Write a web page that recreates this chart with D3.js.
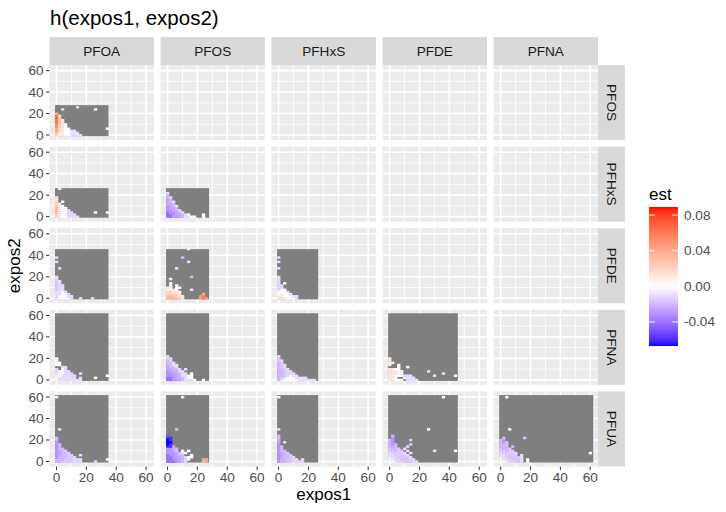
<!DOCTYPE html>
<html>
<head>
<meta charset="utf-8">
<script src="https://cdn.jsdelivr.net/npm/d3@7"></script>
<style>
  body { margin: 0; background: #fff; }
  text { font-family: "Liberation Sans", Arial, sans-serif; }
</style>
</head>
<body>
<svg id="chart" width="726" height="512"></svg>
<script>
const COLS = ["PFOA", "PFOS", "PFHxS", "PFDE", "PFNA"];
const ROWS = ["PFOS", "PFHxS", "PFDE", "PFNA", "PFUA"];
const MAJOR_TICKS = [0, 20, 40, 60];
const MINOR_TICKS = [10, 30, 50];
const EST_TICKS = [-0.04, 0, 0.04, 0.08];
const EST_RANGE = [-0.067, 0.089];

// upper end of the evaluation grid for each exposure
const GRID_MAX = { PFOA: 34.8, PFOS: 27.8, PFHxS: 26.5, PFDE: 45.7, PFNA: 62, PFUA: 61.8 };
const GRID_MIN = -1;
const GRID_STEP = 2;
const _ = null;

// est x 100, first row is expos2 = 0, first column is expos1 = 0 (grid step 2)
const est_PFOS_PFOA = [
  [2, 1, 1, 0, 0, -1, -1, -1, -1],
  [3, 1, 1, 0, 0, -1, -1, -1],
  [4, 2, 1, 0, 0, -1, -1],
  [4, 2, 1, 0, 0],
  [5, 2, 1, 0],
  [5, 2, 1, 0],
  [6, 3, 1],
  [6, 3, 1],
  [7, 3],
  [6, 2],
  [4],
];
const dots_PFOS_PFOA = [[4, 24, 2], [14, 26, -1], [26, 24, 0], [34, 6, 0]];

const est_PFHxS_PFOA = [
  [2, 1, 0, 0, -1, -1, -1, -1],
  [2, 1, 0, 0, -1, -1, -1],
  [3, 1, 0, 0, -1, -1],
  [3, 1, 0, 0, -1],
  [3, 1, 0, 0],
  [3, 1, 0],
  [2, 1],
  [2, _, 0],
  [1],
  [1],
];
const dots_PFHxS_PFOA = [[2, 26, 1], [26, 4, 0], [34, 4, 0]];

const est_PFHxS_PFOS = [
  [-4, -4, -3, -3, -2.5, -2, -1, -1, 0, 0, _, _, 0],
  [-4, -4, -3, -2.5, -2.5, -2, -1, 0],
  [-4, -3, -3, -2.5, -2, -1],
  [-3, -3, -2.5, -2, -1],
  [-3, -2.5, -2.5, -2],
  [-3, -2.5, -2, -1],
  [-2.5, -2.5, -2],
  [-2.5, -2, -1],
  [-2.5, -2],
  [-2, -1],
  [-2],
  [-1],
];
const dots_PFHxS_PFOS = [[24, 2, 0]];

const est_PFDE_PFOA = [
  [-1, 0, 0, 0, 0, -1, _, _, -1, _, _, _, -1],
  [-1, 0, 0, 0, -1, -1],
  [-1, -1, 0, 0, -1],
  [-1, -1, 0, -1],
  [-1.5, -1, -1],
  [-1.5, -1, -1],
  [-1.5, -1, -1],
  [-1.5, -1],
  [-1.5, -1],
  [-1],
  [-1],
];
const dots_PFDE_PFOA = [[0, 34, -1], [0, 38, -1], [2, 28, -1]];

const est_PFDE_PFOS = [
  [3, 3, 3, 3, 2, 1, _, _, _, _, _, 4, 6, 5],
  [3, 3, 3, 2, 2, 1, _, _, _, _, _, 5, 6],
  [2, 2, 2, 2, 1, _, _, _, _, _, _, _, 4],
  [2, 2, 1, 1, 0],
  [1, 1, 1, 0],
  [1, 0, _, 0, 0],
  [_, 0, _, 0],
  [_, 0],
  [],
  [_, 0],
];
const dots_PFDE_PFOS = [[14, 46, 0], [10, 38, -2], [14, 34, -1], [16, 20, -2], [6, 28, -1], [16, 8, -1]];

const est_PFDE_PFHxS = [
  [1, 1, 1, 0, 0, 0, -1],
  [1, 1, 0, 0, 0, -1, -1],
  [0, 1, 0, 0, -1],
  [0, 0, 0, -1],
  [-1, 0, 0],
  [-1, -1],
  [-1, -1],
  [-1, _, 0],
  [-1],
  [-1],
  [-1],
];
const dots_PFDE_PFHxS = [[0, 28, -1], [0, 34, -1], [0, 38, -1]];

const est_PFNA_PFOA = [
  [0.5, -1, -1, -1, -1, -1, -1, -1, -1],
  [0.5, -1, -1, -1, -1, -1, -1, _, -1],
  [0.5, 0, -1, -1, -1, -1, -1],
  [-1, 0, 0, -1, -1, -1],
  [-1, 0, 0, -1, -1],
  [-1, _, 0, -1],
  [_, _, -1, -1],
  [0, 0],
  [0, 0],
  [0],
  [0],
];
const dots_PFNA_PFOA = [[16, 6, -1], [26, 2, 0], [34, 4, 0]];

const est_PFNA_PFOS = [
  [-4, -4, -3, -3, -2.5, -2, -1, -1, -1, 0, _, _, 0],
  [-4, -4, -3, -2.5, -2.5, -2, -1, 0, 0],
  [-3, -3, -3, -2.5, -2, -1, -1, 0, 0],
  [-3, -3, -2.5, -2.5, -2, -1, -1, _, 0],
  [-3, -2.5, -2.5, -2, -1, -1],
  [-2.5, -2.5, -2, -2, -1, _, -1],
  [-2.5, -2, -2, -1],
  [-2.5, -2, -1, -1],
  [-2, -2, -1],
  [-2, -1],
  [-1, -1],
  [-1],
];
const dots_PFNA_PFOS = [];

const est_PFNA_PFHxS = [
  [-2, -1, 0, 0, 0, 0, 0, -1, -1, -1, -1, -1, -1],
  [-2, -1.5, -1, 0, 0, 0, -1, -1, -1, -1],
  [-2, -2, -1.5, -1, 0, -1, -1],
  [-2, -2, -1.5, -1, -1, -1],
  [-2, -2, -1.5, -1, -1],
  [-2, -2, -1.5, -1],
  [-2, -1.5, -1],
  [-2, -1.5, -1],
  [-2, -1.5],
  [-1.5, -1],
  [-1.5],
  [-1],
];
const dots_PFNA_PFHxS = [];

const est_PFNA_PFDE = [
  [1, 1, 0, 0, 0, _, -1, -1, -1, -1],
  [1, 1, 0, _, _, 0, -1, -1, -1],
  [1, 1, 0, 0, 0, -1, -1, -1],
  [1, 1, 1, 0, 0],
  [1, 1, 1, 0, 0],
  [1, 1, 0, 0],
  [_, _, _, 0, _, _, 0],
  [1, _, _, 0],
  [1, 1],
  [1],
  [1],
];
const dots_PFNA_PFDE = [[26, 8, -1], [30, 4, -1], [36, 6, -1], [44, 4, 0]];

const est_PFUA_PFOA = [
  [-2, -2, -1.5, -1.5, -1.5, -1.5, -1, -1, -1],
  [-2, -2, -2, -1.5, -1.5, -1.5, -1, -1, -1],
  [-3, -2, -2, -2, -1.5, -1.5, -1],
  [-3, -2.5, -2, -2, -1.5, -1.5, _, _, -1],
  [-3, -2.5, -2, -2, -1.5],
  [-3, -2.5, -2, -1.5],
  [-3, -2, -2],
  [-3, -2],
  [-3, -2],
  [-3],
  [-2.5],
  [-2],
];
const dots_PFUA_PFOA = [[2, 30, -1], [26, 0, -1], [34, 2, 0], [0, 60, 0]];

const est_PFUA_PFOS = [
  [-4, -4, -4, -3, -2.5, -2, -1, _, _, _, _, _, 3, 4],
  [-4, -4, -3, -3, -2.5, -2, -1, 0, _, _, _, _, 4, 4],
  [-4, -4, -3, -2.5, -2.5, -2, -1, 0, 0],
  [-4, -3, -3, -2.5, -2, -2, _, _, 0],
  [-3, -3, -3, -2.5, -2, -1, 0],
  [-3, -3, -2.5, -2, _, 0, _, 0],
  [-3, -3, -2.5, -2],
  [-6, -6, -2.5],
  [-7, -6],
  [-7, -7],
  [-7, -6],
  [-6, -6],
  [-5],
];
const dots_PFUA_PFOS = [[10, 60, 0], [6, 30, -2]];

const est_PFUA_PFHxS = [
  [-3, -2, -2, -1.5, -1.5, -1, -1, -1, -1],
  [-3, -2, -2, -1.5, -1.5, -1, -1, _, -1],
  [-3, -2.5, -2, -2, -1.5, -1],
  [-3, -2.5, -2, -2, -1.5],
  [-3, -2.5, -2, -1.5],
  [-3, -2, -2],
  [-3, -2],
  [-3, -2],
  [-3],
  [-2.5, _, -1],
  [-2.5],
  [-2],
  [-2],
];
const dots_PFUA_PFHxS = [[0, 30, -1], [0, 60, 0]];

const est_PFUA_PFDE = [
  [0, 0, -0.5, -1, -1, -1.5, -1.5, -1.5, -1, -1],
  [0, -0.5, -1, -1, -1.5, -1.5, -1.5, -1.5, -1],
  [-0.5, -1, -1, -1.5, -1.5, -1.5, -1.5, -1],
  [-1, -1, -1.5, -1.5, -1.5, -1.5, -1],
  [-1, -1.5, -1.5, -1.5, -1.5, -1, _, -1],
  [-1.5, -1.5, -2, -1.5, -1.5, _, -1],
  [-1.5, -2, -2, -1.5, _, -1],
  [-2, -2, -2, _, _, _, -1],
  [-2, -3, -2, _, _, _, _, -1.5],
  [-2, -3],
  [-2, -3, _, _, _, _, _, -1.5],
  [_, -3],
  [_, -2],
];
const dots_PFUA_PFDE = [[26, 30, 0], [36, 60, 0], [44, 10, 0], [30, 10, -1]];

const est_PFUA_PFNA = [
  [0, 0, -0.5, -1, -1, -1.5, -1.5, -1, _, 0],
  [0, -0.5, -1, -1, -1.5, -1.5, -1.5, -1, _, 0],
  [-0.5, -1, -1, -1.5, -1.5, -1.5, -1.5, -1],
  [-1, -1, -1.5, -1.5, -1.5, -1.5, _, -1],
  [-1, -1.5, -1.5, -1.5, -1.5, -1],
  [-1.5, -1.5, -2, -1.5, -1.5],
  [-1.5, -2, -2, -1.5],
  [-2, -2, -2, _, -2],
  [-2, -2, -1.5],
  [-2, -3, -2],
  [-2, -3],
  [_, -2, _, _, _, _, _, _, -1.5],
];
const dots_PFUA_PFNA = [[6, 30, 0], [60, 8, 0], [4, 60, 0]];

const PANELS = [
  { row: "PFOS", col: "PFOA", est: est_PFOS_PFOA, dots: dots_PFOS_PFOA },
  { row: "PFHxS", col: "PFOA", est: est_PFHxS_PFOA, dots: dots_PFHxS_PFOA },
  { row: "PFHxS", col: "PFOS", est: est_PFHxS_PFOS, dots: dots_PFHxS_PFOS },
  { row: "PFDE", col: "PFOA", est: est_PFDE_PFOA, dots: dots_PFDE_PFOA },
  { row: "PFDE", col: "PFOS", est: est_PFDE_PFOS, dots: dots_PFDE_PFOS },
  { row: "PFDE", col: "PFHxS", est: est_PFDE_PFHxS, dots: dots_PFDE_PFHxS },
  { row: "PFNA", col: "PFOA", est: est_PFNA_PFOA, dots: dots_PFNA_PFOA },
  { row: "PFNA", col: "PFOS", est: est_PFNA_PFOS, dots: dots_PFNA_PFOS },
  { row: "PFNA", col: "PFHxS", est: est_PFNA_PFHxS, dots: dots_PFNA_PFHxS },
  { row: "PFNA", col: "PFDE", est: est_PFNA_PFDE, dots: dots_PFNA_PFDE },
  { row: "PFUA", col: "PFOA", est: est_PFUA_PFOA, dots: dots_PFUA_PFOA },
  { row: "PFUA", col: "PFOS", est: est_PFUA_PFOS, dots: dots_PFUA_PFOS },
  { row: "PFUA", col: "PFHxS", est: est_PFUA_PFHxS, dots: dots_PFUA_PFHxS },
  { row: "PFUA", col: "PFDE", est: est_PFUA_PFDE, dots: dots_PFUA_PFDE },
  { row: "PFUA", col: "PFNA", est: est_PFUA_PFNA, dots: dots_PFUA_PFNA },
];

const svg = d3.select("#chart");

const colBand = d3.scaleBand().domain(COLS).range([49.5, 598]).paddingInner(0.06);
const rowBand = d3.scaleBand().domain(ROWS).range([65, 466.5]).paddingInner(0.08);
const PW = colBand.bandwidth();
const PH = rowBand.bandwidth();
const STRIP = 28;

const x = d3.scaleLinear().domain([-4.7, 65.2]).range([0, PW]);
const y = d3.scaleLinear().domain([-4.7, 65.2]).range([PH, 0]);

const color = d3.scaleLinear()
  .domain([EST_RANGE[0], 0, EST_RANGE[1]])
  .range(["#0000FF", "#FFFFFF", "#FF0000"])
  .interpolate(d3.interpolateLab)
  .clamp(true);

// title
svg.append("text")
  .attr("x", 50).attr("y", 25)
  .style("font-size", "20.5px").attr("fill", "#000")
  .text("h(expos1, expos2)");

// all panels: background + grid
const cells = [];
ROWS.forEach((r) => COLS.forEach((c) => cells.push({ row: r, col: c })));

const panel = svg.selectAll("g.panel")
  .data(cells)
  .join("g")
  .attr("class", "panel")
  .attr("transform", (d) => `translate(${colBand(d.col)},${rowBand(d.row)})`);

panel.append("rect")
  .attr("width", PW).attr("height", PH)
  .attr("fill", "#EBEBEB");

panel.selectAll("line.minx")
  .data(MINOR_TICKS).join("line")
  .attr("x1", (d) => x(d)).attr("x2", (d) => x(d))
  .attr("y1", 0).attr("y2", PH)
  .attr("stroke", "#fff").attr("stroke-width", 0.8);
panel.selectAll("line.miny")
  .data(MINOR_TICKS).join("line")
  .attr("y1", (d) => y(d)).attr("y2", (d) => y(d))
  .attr("x1", 0).attr("x2", PW)
  .attr("stroke", "#fff").attr("stroke-width", 0.8);
panel.selectAll("line.majx")
  .data(MAJOR_TICKS).join("line")
  .attr("x1", (d) => x(d)).attr("x2", (d) => x(d))
  .attr("y1", 0).attr("y2", PH)
  .attr("stroke", "#fff").attr("stroke-width", 1.6);
panel.selectAll("line.majy")
  .data(MAJOR_TICKS).join("line")
  .attr("y1", (d) => y(d)).attr("y2", (d) => y(d))
  .attr("x1", 0).attr("x2", PW)
  .attr("stroke", "#fff").attr("stroke-width", 1.6);

// raster panels
PANELS.forEach((p) => {
  const g = svg.append("g")
    .attr("transform", `translate(${colBand(p.col)},${rowBand(p.row)})`);

  // NA cells of the evaluation grid
  g.append("rect")
    .attr("x", x(GRID_MIN))
    .attr("y", y(GRID_MAX[p.row]))
    .attr("width", x(GRID_MAX[p.col]) - x(GRID_MIN))
    .attr("height", y(GRID_MIN) - y(GRID_MAX[p.row]))
    .attr("fill", "#7F7F7F");

  const pts = [];
  p.est.forEach((rowVals, j) => {
    rowVals.forEach((v, i) => {
      if (v !== null) pts.push({ x: i * GRID_STEP, y: j * GRID_STEP, est: v / 100 });
    });
  });
  p.dots.forEach((d) => pts.push({ x: d[0], y: d[1], est: d[2] / 100 }));

  const h = GRID_STEP / 2;
  g.selectAll("rect.cell")
    .data(pts)
    .join("rect")
    .attr("class", "cell")
    .attr("x", (d) => x(d.x - h))
    .attr("y", (d) => y(d.y + h))
    .attr("width", (d) => x(d.x + h) - x(d.x - h) + 0.3)
    .attr("height", (d) => y(d.y - h) - y(d.y + h) + 0.3)
    .attr("fill", (d) => color(d.est));
});

// top strips
const topStrip = svg.selectAll("g.tstrip")
  .data(COLS).join("g")
  .attr("transform", (d) => `translate(${colBand(d)},${65 - STRIP})`);
topStrip.append("rect")
  .attr("width", PW).attr("height", STRIP).attr("fill", "#D9D9D9");
topStrip.append("text")
  .attr("x", PW / 2).attr("y", STRIP / 2)
  .attr("text-anchor", "middle").attr("dominant-baseline", "central")
  .style("font-size", "13.6px").attr("fill", "#1A1A1A")
  .text((d) => d);

// right strips
const rightStrip = svg.selectAll("g.rstrip")
  .data(ROWS).join("g")
  .attr("transform", (d) => `translate(598,${rowBand(d)})`);
rightStrip.append("rect")
  .attr("width", STRIP - 1).attr("height", PH).attr("fill", "#D9D9D9");
rightStrip.append("text")
  .attr("transform", `translate(${(STRIP - 1) / 2},${PH / 2}) rotate(90)`)
  .attr("text-anchor", "middle").attr("dominant-baseline", "central")
  .style("font-size", "13.6px").attr("fill", "#1A1A1A")
  .text((d) => d);

// left axes
ROWS.forEach((r) => {
  const g = svg.append("g").attr("transform", `translate(49.5,${rowBand(r)})`);
  g.selectAll("line")
    .data(MAJOR_TICKS).join("line")
    .attr("x1", -3.5).attr("x2", 0)
    .attr("y1", (d) => y(d)).attr("y2", (d) => y(d))
    .attr("stroke", "#333").attr("stroke-width", 1);
  g.selectAll("text")
    .data(MAJOR_TICKS).join("text")
    .attr("x", -6).attr("y", (d) => y(d))
    .attr("text-anchor", "end").attr("dominant-baseline", "central")
    .style("font-size", "13.6px").attr("fill", "#4D4D4D")
    .text((d) => d);
});

// bottom axes
const lastRow = ROWS[ROWS.length - 1];
COLS.forEach((c) => {
  const g = svg.append("g")
    .attr("transform", `translate(${colBand(c)},${rowBand(lastRow) + PH})`);
  g.selectAll("line")
    .data(MAJOR_TICKS).join("line")
    .attr("x1", (d) => x(d)).attr("x2", (d) => x(d))
    .attr("y1", 0).attr("y2", 3.5)
    .attr("stroke", "#333").attr("stroke-width", 1);
  g.selectAll("text")
    .data(MAJOR_TICKS).join("text")
    .attr("x", (d) => x(d)).attr("y", 15)
    .attr("text-anchor", "middle")
    .style("font-size", "13.6px").attr("fill", "#4D4D4D")
    .text((d) => d);
});

// axis titles
svg.append("text")
  .attr("x", (49.5 + 598) / 2).attr("y", 499.5)
  .attr("text-anchor", "middle")
  .style("font-size", "17px").attr("fill", "#000")
  .text("expos1");
svg.append("text")
  .attr("transform", `translate(20,${(65 + 466.5) / 2}) rotate(-90)`)
  .attr("text-anchor", "middle")
  .style("font-size", "17px").attr("fill", "#000")
  .text("expos2");

// legend
const BAR = { x: 649, y: 207, w: 29, h: 139 };
const ly = d3.scaleLinear().domain(EST_RANGE).range([BAR.y + BAR.h, BAR.y]);

const grad = svg.append("defs").append("linearGradient")
  .attr("id", "estGrad")
  .attr("x1", 0).attr("y1", 1).attr("x2", 0).attr("y2", 0);
grad.selectAll("stop")
  .data(d3.range(0, 1.0001, 0.02))
  .join("stop")
  .attr("offset", (t) => t)
  .attr("stop-color", (t) => color(EST_RANGE[0] + t * (EST_RANGE[1] - EST_RANGE[0])));

svg.append("text")
  .attr("x", BAR.x).attr("y", 200)
  .style("font-size", "17px").attr("fill", "#000")
  .text("est");

svg.append("rect")
  .attr("x", BAR.x).attr("y", BAR.y)
  .attr("width", BAR.w).attr("height", BAR.h)
  .attr("fill", "url(#estGrad)");

const tickLen = BAR.w / 5;
svg.selectAll("line.ltl")
  .data(EST_TICKS).join("line")
  .attr("x1", BAR.x).attr("x2", BAR.x + tickLen)
  .attr("y1", (d) => ly(d)).attr("y2", (d) => ly(d))
  .attr("stroke", "#fff").attr("stroke-width", 1);
svg.selectAll("line.ltr")
  .data(EST_TICKS).join("line")
  .attr("x1", BAR.x + BAR.w - tickLen).attr("x2", BAR.x + BAR.w)
  .attr("y1", (d) => ly(d)).attr("y2", (d) => ly(d))
  .attr("stroke", "#fff").attr("stroke-width", 1);

svg.selectAll("text.lab")
  .data(EST_TICKS).join("text")
  .attr("x", BAR.x + BAR.w + 6).attr("y", (d) => ly(d))
  .attr("dominant-baseline", "central")
  .style("font-size", "13.6px").attr("fill", "#4D4D4D")
  .text((d) => d.toFixed(2));
</script>
</body>
</html>
